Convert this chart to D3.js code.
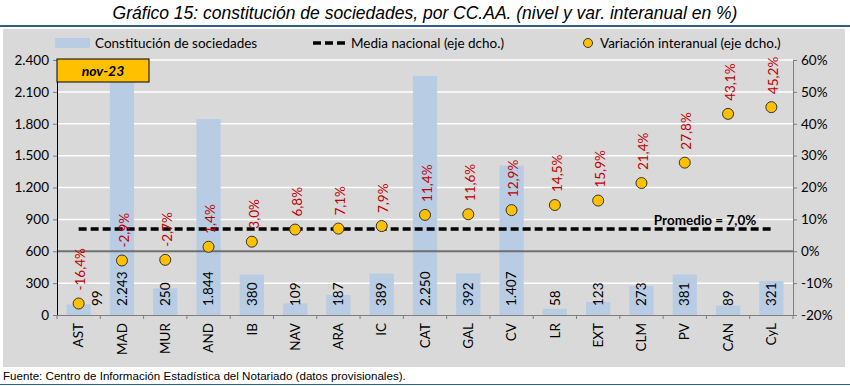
<!DOCTYPE html>
<html>
<head>
<meta charset="utf-8">
<script src="https://cdn.jsdelivr.net/npm/d3@7"></script>
<style>
  body { margin: 0; background: #fff; }
  svg { display: block; }
  .lbl { font-family: Lato, "Open Sans", sans-serif; }
</style>
</head>
<body>
<div id="container"></div>
<script>
// data
const regions = ["AST","MAD","MUR","AND","IB","NAV","ARA","IC","CAT","GAL","CV","LR","EXT","CLM","PV","CAN","CyL"]
const constitucion = [99,2243,250,1844,380,109,187,389,2250,392,1407,58,123,273,381,89,321]
const variacion = [-16.4,-2.9,-2.7,1.4,3.0,6.8,7.1,7.9,11.4,11.6,12.9,14.5,15.9,21.4,27.8,43.1,45.2]
const mediaNacional = 7.0
const leftTicks = [0,300,600,900,1200,1500,1800,2100,2400]
const rightTicks = [-20,-10,0,10,20,30,40,50,60]

const W = 850, H = 386
const margin = {left: 57, right: 57, top: 60, bottom: 71}
const innerW = W - margin.left - margin.right
const innerH = H - margin.top - margin.bottom

const esNum = d3.formatLocale({decimal: ",", thousands: ".", grouping: [3], minus: "-"})
const fmtInt = esNum.format(",d")
const fmtPct = esNum.format(".1f")

const svg = d3.select("#container").append("svg")
  .attr("width", W).attr("height", H)

// gray panel
svg.append("rect").attr("x", 3).attr("y", 29).attr("width", 842).attr("height", 338)
  .attr("fill", "#d9d9d9")

// title + rules
svg.append("text").attr("x", W/2).attr("y", 19)
  .attr("text-anchor", "middle")
  .style("font-family", "'Liberation Sans Narrow', 'Liberation Sans', sans-serif")
  .style("font-style", "italic").style("font-size", "17.5px")
  .text("Gráfico 15: constitución de sociedades, por CC.AA. (nivel y var. interanual en %)")
svg.append("line").attr("x1", 0).attr("x2", W).attr("y1", 26).attr("y2", 26)
  .attr("stroke", "#2e5d8a").attr("stroke-width", 2)
svg.append("text").attr("x", 3).attr("y", 380)
  .style("font-family", "'Liberation Sans', Arial, sans-serif").style("font-size", "11.6px")
  .text("Fuente: Centro de Información Estadística del Notariado (datos provisionales).")
svg.append("line").attr("x1", 0).attr("x2", W).attr("y1", 384.5).attr("y2", 384.5)
  .attr("stroke", "#2e5d8a").attr("stroke-width", 1)

const g = svg.append("g").attr("transform", `translate(${margin.left}, ${margin.top})`)

// scales
const x = d3.scaleBand().domain(regions).range([0, innerW]).paddingInner(0.44).paddingOuter(0.22)
const yL = d3.scaleLinear().domain([0, 2400]).range([innerH, 0])
const yR = d3.scaleLinear().domain([-20, 60]).range([innerH, 0])
const cx = d => x(d) + x.bandwidth() / 2

// gridlines
g.selectAll(".grid").data(leftTicks.slice(1)).enter().append("line")
  .attr("x1", 0).attr("x2", innerW)
  .attr("y1", d => yL(d)).attr("y2", d => yL(d))
  .attr("stroke", "#fff").attr("stroke-width", 1.5)

// bars
g.selectAll(".bar").data(regions).enter().append("rect")
  .attr("x", d => x(d)).attr("width", x.bandwidth())
  .attr("y", (d, i) => yL(constitucion[i]))
  .attr("height", (d, i) => innerH - yL(constitucion[i]))
  .attr("fill", "#b8cce4")

// zero line on right axis
g.append("line").attr("x1", 0).attr("x2", innerW)
  .attr("y1", yR(0)).attr("y2", yR(0))
  .attr("stroke", "#6e6e6e").attr("stroke-width", 2)

// bar labels (inside base)
g.selectAll(".barlbl").data(regions).enter().append("text")
  .attr("class", "lbl")
  .attr("transform", (d, i) => `translate(${cx(d) + (i === 0 ? 19 : 0)}, ${innerH - 9}) rotate(-90)`)
  .attr("dy", "0.35em")
  .style("font-size", "13.5px").attr("fill", "#000")
  .text((d, i) => fmtInt(constitucion[i]))

// media nacional
g.append("line")
  .attr("x1", cx(regions[0])).attr("x2", cx(regions[regions.length - 1]))
  .attr("y1", yR(mediaNacional)).attr("y2", yR(mediaNacional))
  .attr("stroke", "#000").attr("stroke-width", 3.5).attr("stroke-dasharray", "8,4")
g.append("text").attr("class", "lbl")
  .attr("x", cx(regions[regions.length - 1]) - 15).attr("y", yR(mediaNacional) - 4)
  .attr("text-anchor", "end")
  .style("font-size", "13.5px").style("font-weight", "bold")
  .text("Promedio = " + fmtPct(mediaNacional) + "%")

// points
g.selectAll(".pt").data(regions).enter().append("circle")
  .attr("cx", d => cx(d)).attr("cy", (d, i) => yR(variacion[i]))
  .attr("r", 5.5).attr("fill", "#ffc000").attr("stroke", "#333").attr("stroke-width", 1)

g.selectAll(".pctlbl").data(regions).enter().append("text")
  .attr("class", "lbl")
  .attr("transform", (d, i) => `translate(${cx(d) + 2}, ${yR(variacion[i]) - 13}) rotate(-90)`)
  .attr("dy", "0.35em")
  .style("font-size", "13.5px").attr("fill", "#c00000")
  .text((d, i) => fmtPct(variacion[i]) + "%")

// axes
const axL = g.append("g")
  .call(d3.axisLeft(yL).tickValues(leftTicks).tickSize(4).tickFormat(fmtInt))
const axR = g.append("g").attr("transform", `translate(${innerW}, 0)`)
  .call(d3.axisRight(yR).tickValues(rightTicks).tickSize(4).tickFormat(d => esNum.format("d")(d) + "%"))
const axB = g.append("g").attr("transform", `translate(0, ${innerH})`)
  .call(d3.axisBottom(x).tickSize(0))
axB.selectAll("text")
  .attr("transform", "rotate(-90)")
  .attr("x", -8).attr("y", 0).attr("dy", "0.35em")
  .style("text-anchor", "end")
// category separators
axB.selectAll(".sep").data(d3.range(regions.length + 1)).enter().append("line")
  .attr("x1", i => i * innerW / regions.length).attr("x2", i => i * innerW / regions.length)
  .attr("y1", 0).attr("y2", 4).attr("stroke", "#7f7f7f")

;[axL, axR, axB].forEach(a => {
  a.selectAll(".domain").attr("stroke", "#7f7f7f")
  a.selectAll(".tick line").attr("stroke", "#7f7f7f")
  a.selectAll("text").attr("class", "lbl").style("font-size", "13.5px").attr("fill", "#000")
})
axL.select(".domain").attr("stroke", "#000")
axL.selectAll("text").attr("x", -8)
axR.selectAll("text").attr("x", 8)

// nov-23 box
const badge = g.append("g")
badge.append("rect").attr("x", 0).attr("y", -1).attr("width", 92).attr("height", 23)
  .attr("fill", "#ffc000").attr("stroke", "#000").attr("stroke-width", 1)
badge.append("text").attr("class", "lbl").attr("x", 46).attr("y", 15.5)
  .attr("text-anchor", "middle")
  .style("font-size", "14px").style("font-weight", "bold").style("font-style", "italic")
  .text("nov-23")

// legend
const leg = svg.append("g").attr("class", "lbl").style("font-size", "13.5px")
leg.append("rect").attr("x", 55).attr("y", 38).attr("width", 35).attr("height", 10).attr("fill", "#b8cce4")
leg.append("text").attr("x", 95).attr("y", 47.5).text("Constitución de sociedades")
leg.append("line").attr("x1", 313).attr("x2", 346).attr("y1", 43).attr("y2", 43)
  .attr("stroke", "#000").attr("stroke-width", 3.5).attr("stroke-dasharray", "8,4")
leg.append("text").attr("x", 351).attr("y", 47.5).text("Media nacional (eje dcho.)")
leg.append("circle").attr("cx", 588).attr("cy", 43).attr("r", 4.5)
  .attr("fill", "#ffc000").attr("stroke", "#333")
leg.append("text").attr("x", 600).attr("y", 47.5).text("Variación interanual (eje dcho.)")
</script>
</body>
</html>
